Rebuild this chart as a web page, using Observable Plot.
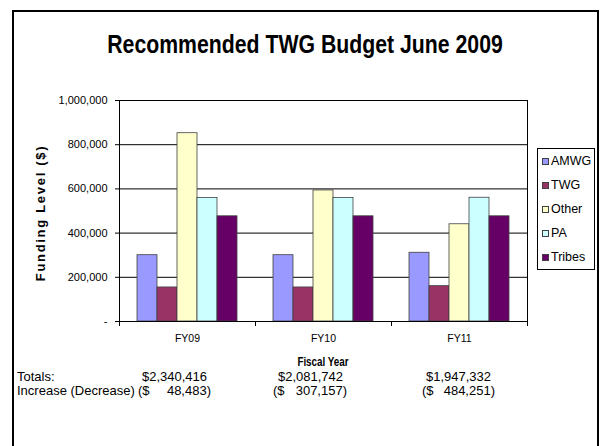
<!DOCTYPE html>
<html>
<head>
<meta charset="utf-8">
<script src="https://cdn.jsdelivr.net/npm/d3@7"></script>
<script src="https://cdn.jsdelivr.net/npm/@observablehq/plot@0.6"></script>
<style>
  html, body { margin: 0; padding: 0; background: #fff; }
  #wrap { position: relative; width: 602px; height: 446px; overflow: hidden; font-family: "Liberation Sans", Arial, sans-serif; color: #000; }
  #wrap > svg { position: absolute; left: 0; top: 0; }
  .t { position: absolute; white-space: pre; }
</style>
</head>
<body>
<div id="wrap"></div>
<script>
// ---- data ----
const years = ["FY09", "FY10", "FY11"];
const series = ["AMWG", "TWG", "Other", "PA", "Tribes"];
const AMWG   = [300000, 300000, 311000];
const TWG    = [154000, 154000, 160000];
const Other  = [852000, 593000, 440000];
const PA     = [559000, 559000, 560000];
const Tribes = [476000, 476000, 476000];
const colors = ["#9999FF", "#993366", "#FFFFCC", "#CCFFFF", "#660066"];
const yTicks = [0, 200000, 400000, 600000, 800000, 1000000];
const totals = ["$2,340,416", "$2,081,742", "$1,947,332"];
const changes = ["48,483", "307,157", "484,251"];
const title = "Recommended TWG Budget June 2009";
const yLabel = "Funding Level ($)";
const xLabel = "Fiscal Year";

const valuesBySeries = {AMWG, TWG, Other, PA, Tribes};
const data = [];
years.forEach((yr, i) => series.forEach(s => data.push({year: yr, series: s, value: valuesBySeries[s][i]})));

const W = 602, H = 446;
const mL = 119, mR = 75, mT = 100, mB = 125;
const frameH = H - mT - mB;

const fmt = d3.format(",");
const chart = Plot.plot({
  width: W, height: H,
  marginLeft: mL, marginRight: mR, marginTop: mT, marginBottom: mB,
  style: {background: "transparent", fontFamily: "Liberation Sans, Arial, sans-serif", color: "#000"},
  fx: {domain: years, padding: 0},
  x: {domain: series, paddingInner: 0, paddingOuter: 0.74, axis: null},
  y: {domain: [0, 1000000]},
  color: {domain: series, range: colors},
  marks: [
    Plot.ruleY(yTicks, {stroke: "#000", strokeWidth: 1}),
    Plot.barY(data, {fx: "year", x: "series", y: "value", fill: "series", stroke: "#404040", strokeWidth: 0.8}),
    Plot.frame({stroke: "#000", facet: "super"}),
    Plot.frame({anchor: "left", stroke: "#000", insetTop: frameH, insetBottom: -4}),
    Plot.frame({anchor: "right", stroke: "#000", insetTop: frameH, insetBottom: -4, facet: "super"}),
    Plot.axisY(yTicks, {anchor: "left", tickSize: 4, tickPadding: 8, fontSize: 11, label: null,
      tickFormat: d => d === 0 ? "-" : fmt(d)}),
    Plot.axisFx({anchor: "bottom", tickSize: 0, tickPadding: 13, fontSize: 10.5, label: null})
  ]
});

const wrap = document.getElementById("wrap");
wrap.appendChild(chart);

function place(text, x, baseline, fs, opts = {}) {
  const el = document.createElement("div");
  el.className = "t";
  el.textContent = text;
  el.style.fontSize = fs + "px";
  el.style.lineHeight = fs + "px";
  el.style.top = (baseline - 0.8465 * fs) + "px";
  if (opts.weight) el.style.fontWeight = opts.weight;
  const sx = opts.scaleX || 1;
  if (opts.align === "center") {
    el.style.left = x + "px";
    el.style.transform = `translateX(-50%) scaleX(${sx})`;
  } else if (opts.align === "right") {
    el.style.right = (W - x) + "px";
    el.style.transformOrigin = "right center";
    el.style.transform = `scaleX(${sx})`;
  } else {
    el.style.left = x + "px";
    el.style.transformOrigin = "left center";
    el.style.transform = `scaleX(${sx})`;
  }
  wrap.appendChild(el);
  return el;
}

// outer chart border
const border = document.createElement("div");
Object.assign(border.style, {position: "absolute", left: "12px", top: "10px", width: "587px", height: "470px",
  border: "2.5px solid #000", boxSizing: "border-box"});
wrap.appendChild(border);

// title
place(title, 305, 53.5, 25, {align: "center", weight: "bold", scaleX: 0.85});

// y label
const yl = document.createElement("div");
yl.className = "t";
yl.textContent = yLabel;
Object.assign(yl.style, {left: "40px", top: "213px", fontSize: "13px", fontWeight: "bold", letterSpacing: "1.7px",
  lineHeight: "13px", transform: "translate(-50%, -50%) rotate(-90deg)"});
wrap.appendChild(yl);

// x label
place(xLabel, 323, 366, 12, {align: "center", weight: "bold", scaleX: 0.82});

// legend
const leg = document.createElement("div");
Object.assign(leg.style, {position: "absolute", left: "537px", top: "148px", width: "58px", height: "122px",
  border: "1px solid #000", boxSizing: "border-box", background: "#fff"});
wrap.appendChild(leg);
series.forEach((s, i) => {
  const cy = 161 + i * 24;
  const sw = document.createElement("div");
  Object.assign(sw.style, {position: "absolute", left: "542px", top: (cy - 3) + "px", width: "7px", height: "7px",
    background: colors[i], border: "1px solid #404040", boxSizing: "border-box"});
  wrap.appendChild(sw);
  place(s, 551, cy + 4.5, 12.5);
});

// totals table
const colLeft = [136, 271, 420];
const colRight = [207, 343, 491];
const rowT = 381, rowI = 395;
place("Totals:", 17, rowT, 13);
place("Increase (Decrease)", 17, rowI, 13);
years.forEach((yr, i) => {
  place(totals[i], colRight[i], rowT, 13, {align: "right"});
  place("($", colLeft[i] + 2, rowI, 13);
  place(changes[i] + ")", colRight[i] + 4, rowI, 13, {align: "right"});
});
</script>
</body>
</html>
